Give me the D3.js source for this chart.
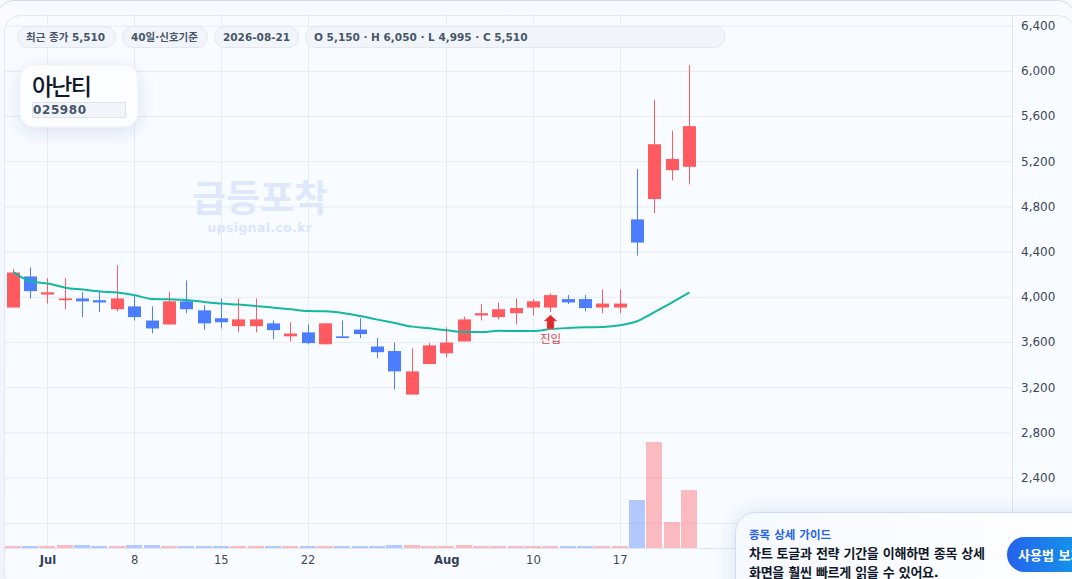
<!DOCTYPE html>
<html lang="ko">
<head>
<meta charset="utf-8" />
<title>아난티 025980</title>
<script src="https://cdn.jsdelivr.net/npm/d3@7"></script>
<style>
  html, body { margin: 0; padding: 0; background: #f6f8fb; overflow: hidden; }
  svg { display: block; font-family: "DejaVu Sans", "Noto Sans CJK KR", sans-serif; }
  .axis path { display: none; }
  .axis text { fill: #3d4859; font-size: 12px; font-family: "DejaVu Sans", sans-serif; }
  .date-axis text { font-size: 11.6px; }
  .axis line, .grid line { stroke: #e7ebf3; }
  .pill-text { fill: #475569; font-size: 10.5px; font-weight: 700; }
</style>
</head>
<body>
<svg id="js-svg" width="1072" height="579"></svg>
<script>
const dates = [
  "06-29", "06-30", "07-01", "07-02", "07-03", "07-06", "07-07", "07-08",
  "07-09", "07-10", "07-13", "07-14", "07-15", "07-16", "07-17", "07-20",
  "07-21", "07-22", "07-23", "07-24", "07-27", "07-28", "07-29", "07-30",
  "07-31", "08-03", "08-04", "08-05", "08-06", "08-07", "08-10", "08-11",
  "08-12", "08-13", "08-14", "08-17", "08-18", "08-19", "08-20", "08-21",
];
const opens = [
  3905, 4180, 4020, 3970, 3985, 3970, 3890, 3915, 3790, 3755,
  3960, 3880, 3810, 3740, 3740, 3765, 3650, 3685, 3580, 3650,
  3710, 3560, 3520, 3135, 3405, 3500, 3605, 3835, 3820, 3855,
  3905, 3905, 3980, 3980, 3905, 3905, 4685, 4865, 5120, 5150,
];
const highs = [
  4245, 4260, 4165, 4165, 4040, 4040, 4280, 4005, 3915, 4040,
  4145, 3925, 3985, 3985, 3985, 3790, 3775, 3755, 3765, 3790,
  3810, 3635, 3595, 3545, 3590, 3730, 3825, 3935, 3950, 3985,
  3980, 4030, 4015, 4015, 4065, 4065, 5130, 5740, 5470, 6050,
];
const lows = [
  3905, 3985, 3940, 3890, 3820, 3865, 3870, 3790, 3675, 3755,
  3855, 3710, 3720, 3685, 3685, 3625, 3605, 3580, 3580, 3635,
  3635, 3455, 3180, 3135, 3405, 3465, 3605, 3790, 3800, 3755,
  3835, 3865, 3935, 3870, 3855, 3855, 4365, 4740, 5030, 4995,
];
const closes = [
  4215, 4050, 4040, 3985, 3960, 3950, 3985, 3820, 3720, 3960,
  3890, 3765, 3775, 3800, 3800, 3705, 3675, 3590, 3765, 3635,
  3670, 3510, 3340, 3340, 3570, 3595, 3800, 3855, 3890, 3900,
  3960, 4015, 3950, 3900, 3940, 3940, 4480, 5350, 5220, 5510,
];
const volumes = [
  200, 200, 200, 300, 300, 200, 200, 300, 300, 200,
  200, 200, 200, 200, 200, 200, 200, 200, 200, 200,
  200, 200, 300, 300, 200, 200, 300, 200, 200, 200,
  200, 200, 200, 200, 200, 200, 4800, 10600, 2600, 5800,
];
const movingAvg = [
  4219, 4137, 4117, 4081, 4064, 4046, 4037, 4013, 3981, 3978,
  3972, 3954, 3940, 3931, 3919, 3904, 3889, 3874, 3872, 3857,
  3830, 3798, 3768, 3736, 3721, 3704, 3688, 3688, 3699, 3697,
  3697, 3715, 3724, 3730, 3733, 3748, 3786, 3867, 3951, 4040,
];
const priceTicks = [6400, 6000, 5600, 5200, 4800, 4400, 4000, 3600, 3200, 2800, 2400, 2000];
const dateTicks = ["07-01", "07-08", "07-15", "07-22", "08-03", "08-10", "08-17"];
const dateTickLabels = ["Jul", "8", "15", "22", "Aug", "10", "17"];
const boldTicks = ["07-01", "08-03"];
const pills = ["최근 종가 5,510", "40일·신호기준", "2026-08-21", "O 5,150 · H 6,050 · L 4,995 · C 5,510"];
const signalDate = "08-11";
const signalPrice = 3715;
const signalLabel = "진입";

const upColor = "#ff5a5f";
const downColor = "#4c7dff";

const svg = d3.select("#js-svg");
const defs = svg.append("defs");

const plot = { left: 5, top: 15, right: 1012, bottom: 548 };

const x = d3.scalePoint().domain(dates).range([13.29, 689.55]);
const y = d3.scaleLinear().domain([2400, 6400]).range([477.6, 25.6]);
const yVolume = d3.scaleLinear().domain([0, 10600]).range([plot.bottom, 442]);
const xSnap = (date) => Math.floor(x(date));

const candles = dates.map((date, i) => ({
  date,
  open: opens[i],
  high: highs[i],
  low: lows[i],
  close: closes[i],
  volume: volumes[i],
  up: closes[i] >= opens[i],
}));

defs.append("clipPath").attr("id", "plot-clip")
  .append("rect")
  .attr("x", plot.left).attr("y", plot.top)
  .attr("width", 1070).attr("height", plot.bottom - plot.top + 40)
  .attr("rx", 16);

const shadow = (id, dy, blur, opacity) => {
  const filter = defs.append("filter").attr("id", id)
    .attr("x", "-30%").attr("y", "-40%").attr("width", "160%").attr("height", "200%");
  filter.append("feDropShadow")
    .attr("dx", 0).attr("dy", dy).attr("stdDeviation", blur)
    .attr("flood-color", "#334e82").attr("flood-opacity", opacity);
};
shadow("card-shadow", 5, 8, 0.13);
shadow("guide-shadow", 0, 10, 0.14);

const buttonGradient = defs.append("linearGradient").attr("id", "button-gradient");
buttonGradient.append("stop").attr("offset", "0%").attr("stop-color", "#2563eb");
buttonGradient.append("stop").attr("offset", "100%").attr("stop-color", "#0ea5e9");

const guideGradient = defs.append("linearGradient").attr("id", "guide-gradient")
  .attr("x1", 0).attr("y1", 0).attr("x2", 1).attr("y2", 0);
guideGradient.append("stop").attr("offset", "0%").attr("stop-color", "#f6f9ff");
guideGradient.append("stop").attr("offset", "100%").attr("stop-color", "#ffffff");

const frameGradient = defs.append("linearGradient").attr("id", "frame-gradient")
  .attr("x1", 0).attr("y1", 0).attr("x2", 0).attr("y2", 1);
frameGradient.append("stop").attr("offset", "0%").attr("stop-color", "#f8faff");
frameGradient.append("stop").attr("offset", "100%").attr("stop-color", "#eef2fb");

// page frame
svg.append("rect")
  .attr("x", -3.5).attr("y", 0.5).attr("width", 1079).attr("height", 640).attr("rx", 18)
  .attr("fill", "url(#frame-gradient)").attr("stroke", "#d3dcea");

svg.append("rect")
  .attr("x", plot.left - 0.5).attr("y", plot.top + 0.5)
  .attr("width", 1070).attr("height", plot.bottom - plot.top + 40).attr("rx", 16)
  .attr("fill", "#f8fbff").attr("stroke", "#e3e8f1");

const chart = svg.append("g").attr("clip-path", "url(#plot-clip)");

// grid and axes
chart.append("g").attr("class", "axis")
  .attr("transform", `translate(${plot.left},0)`)
  .call(d3.axisRight(y).tickValues(priceTicks).tickSize(plot.right - plot.left).tickFormat(""));

chart.append("g").attr("class", "grid")
  .selectAll("line")
  .data(dateTicks)
  .join("line")
  .attr("x1", (d) => xSnap(d) + 0.5)
  .attr("x2", (d) => xSnap(d) + 0.5)
  .attr("y1", plot.top)
  .attr("y2", plot.bottom);

chart.append("line")
  .attr("x1", plot.left).attr("x2", plot.right)
  .attr("y1", plot.bottom + 0.5).attr("y2", plot.bottom + 0.5)
  .attr("stroke", "#dfe5ef");

chart.append("line")
  .attr("x1", plot.right + 0.5).attr("x2", plot.right + 0.5)
  .attr("y1", plot.top).attr("y2", 579)
  .attr("stroke", "#dfe4ee");

svg.append("g").attr("class", "axis")
  .attr("transform", `translate(${plot.right},0)`)
  .call(d3.axisRight(y).tickValues(priceTicks).tickSize(0).tickPadding(9).tickFormat(d3.format(",")));

const dateAxis = svg.append("g").attr("class", "axis date-axis")
  .attr("transform", `translate(0,${plot.bottom})`)
  .call(d3.axisBottom(x).tickValues(dateTicks).tickSize(0).tickPadding(8).offset(0)
    .tickFormat((d) => dateTickLabels[dateTicks.indexOf(d)]));
dateAxis.selectAll("text")
  .attr("font-weight", (d) => (boldTicks.includes(d) ? 700 : 400))
  .style("fill", (d) => (boldTicks.includes(d) ? "#334155" : "#3d4859"));

// watermark
svg.append("text").attr("x", 260).attr("y", 212)
  .attr("text-anchor", "middle").attr("font-size", 37).attr("font-weight", 700)
  .attr("fill", "#dfe8fb").text("급등포착");
svg.append("text").attr("x", 260).attr("y", 232)
  .attr("text-anchor", "middle").attr("font-size", 12.5).attr("font-weight", 700)
  .attr("letter-spacing", 0.35).attr("fill", "#dce6fb").text("upsignal.co.kr");

// volume
chart.append("g").selectAll("rect")
  .data(candles)
  .join("rect")
  .attr("x", (d) => xSnap(d.date) - 8)
  .attr("width", 16)
  .attr("y", (d) => yVolume(d.volume))
  .attr("height", (d) => yVolume(0) - yVolume(d.volume))
  .attr("fill", (d) => (d.up ? upColor : downColor))
  .attr("opacity", 0.4);

// candles
const candle = chart.append("g").selectAll("g")
  .data(candles)
  .join("g")
  .attr("fill", (d) => (d.up ? upColor : downColor))
  .attr("stroke", (d) => (d.up ? upColor : downColor));

candle.append("line")
  .attr("x1", (d) => xSnap(d.date) + 0.5)
  .attr("x2", (d) => xSnap(d.date) + 0.5)
  .attr("y1", (d) => y(d.high))
  .attr("y2", (d) => y(d.low))
  .attr("stroke-width", 1);

candle.append("rect")
  .attr("x", (d) => xSnap(d.date) - 6)
  .attr("width", 13)
  .attr("y", (d) => y(Math.max(d.open, d.close)))
  .attr("height", (d) => Math.max(1.5, Math.abs(y(d.open) - y(d.close))))
  .attr("stroke", "none");

// moving average
chart.append("path")
  .datum(movingAvg)
  .attr("d", d3.line().x((d, i) => x(dates[i])).y((d) => y(d)).curve(d3.curveMonotoneX))
  .attr("fill", "none")
  .attr("stroke", "#14b8a0")
  .attr("stroke-width", 2);

// entry marker
const marker = svg.append("g")
  .attr("transform", `translate(${xSnap(signalDate) + 0.5},${y(signalPrice)})`);
marker.append("path")
  .attr("d", "M0,-14 L6.5,-8 L3.5,-8 L3.5,0 L-3.5,0 L-3.5,-8 L-6.5,-8 Z")
  .attr("fill", "#d92d2d")
  .attr("stroke", "rgba(255,120,120,0.5)")
  .attr("stroke-width", 1);
marker.append("text")
  .attr("y", 13.5)
  .attr("text-anchor", "middle").attr("font-size", 11.5)
  .attr("fill", "#d9434b")
  .text(signalLabel);

// info pills
const pillBoxes = [[17.5, 98], [122.5, 85], [214.5, 84], [305.5, 419.5]];
const pill = svg.append("g").selectAll("g")
  .data(pills)
  .join("g")
  .attr("transform", (d, i) => `translate(${pillBoxes[i][0]},26.5)`);
pill.append("rect")
  .attr("width", (d, i) => pillBoxes[i][1]).attr("height", 21).attr("rx", 10.5)
  .attr("fill", "#f1f5f9").attr("stroke", "#e2e8f0");
pill.append("text")
  .attr("class", "pill-text")
  .attr("x", 8.5).attr("y", 14.5)
  .text((d) => d);

// name card
const card = svg.append("g").attr("transform", "translate(20,65)");
card.append("rect")
  .attr("width", 118).attr("height", 62).attr("rx", 14)
  .attr("fill", "#fcfdff").attr("stroke", "#edf1f7")
  .attr("filter", "url(#card-shadow)");
card.append("text")
  .attr("x", 12).attr("y", 30)
  .attr("font-size", 23).attr("font-weight", 500).attr("letter-spacing", -1.8)
  .attr("fill", "#0f172a")
  .text("아난티");
card.append("rect")
  .attr("x", 12.5).attr("y", 37.5).attr("width", 93).attr("height", 15)
  .attr("fill", "#f1f5f9").attr("stroke", "#dde3ec");
card.append("text")
  .attr("x", 13).attr("y", 48.5)
  .attr("font-size", 12).attr("font-weight", 700).attr("letter-spacing", 0.6)
  .attr("fill", "#475569")
  .text("025980");

// guide card
const guide = svg.append("g").attr("transform", "translate(735,512)");
guide.append("rect")
  .attr("x", 0.5).attr("y", 0.5).attr("width", 400).attr("height", 120).attr("rx", 20)
  .attr("fill", "url(#guide-gradient)").attr("stroke", "#cfdcf8")
  .attr("filter", "url(#guide-shadow)");
guide.append("text")
  .attr("x", 14).attr("y", 27)
  .attr("font-size", 11.5).attr("font-weight", 700)
  .attr("fill", "#2563eb")
  .text("종목 상세 가이드");
guide.append("text")
  .attr("x", 14).attr("y", 46)
  .attr("font-size", 13).attr("font-weight", 700).attr("letter-spacing", -0.28)
  .attr("fill", "#111827")
  .text("차트 토글과 전략 기간을 이해하면 종목 상세");
guide.append("text")
  .attr("x", 14).attr("y", 65)
  .attr("font-size", 13).attr("font-weight", 700).attr("letter-spacing", -0.28)
  .attr("fill", "#111827")
  .text("화면을 훨씬 빠르게 읽을 수 있어요.");
guide.append("rect")
  .attr("x", 272).attr("y", 25).attr("width", 94).attr("height", 35).attr("rx", 17.5)
  .attr("fill", "url(#button-gradient)");
guide.append("text")
  .attr("x", 283).attr("y", 48)
  .attr("font-size", 13).attr("font-weight", 700)
  .attr("fill", "#ffffff")
  .text("사용법 보기");
</script>
</body>
</html>
